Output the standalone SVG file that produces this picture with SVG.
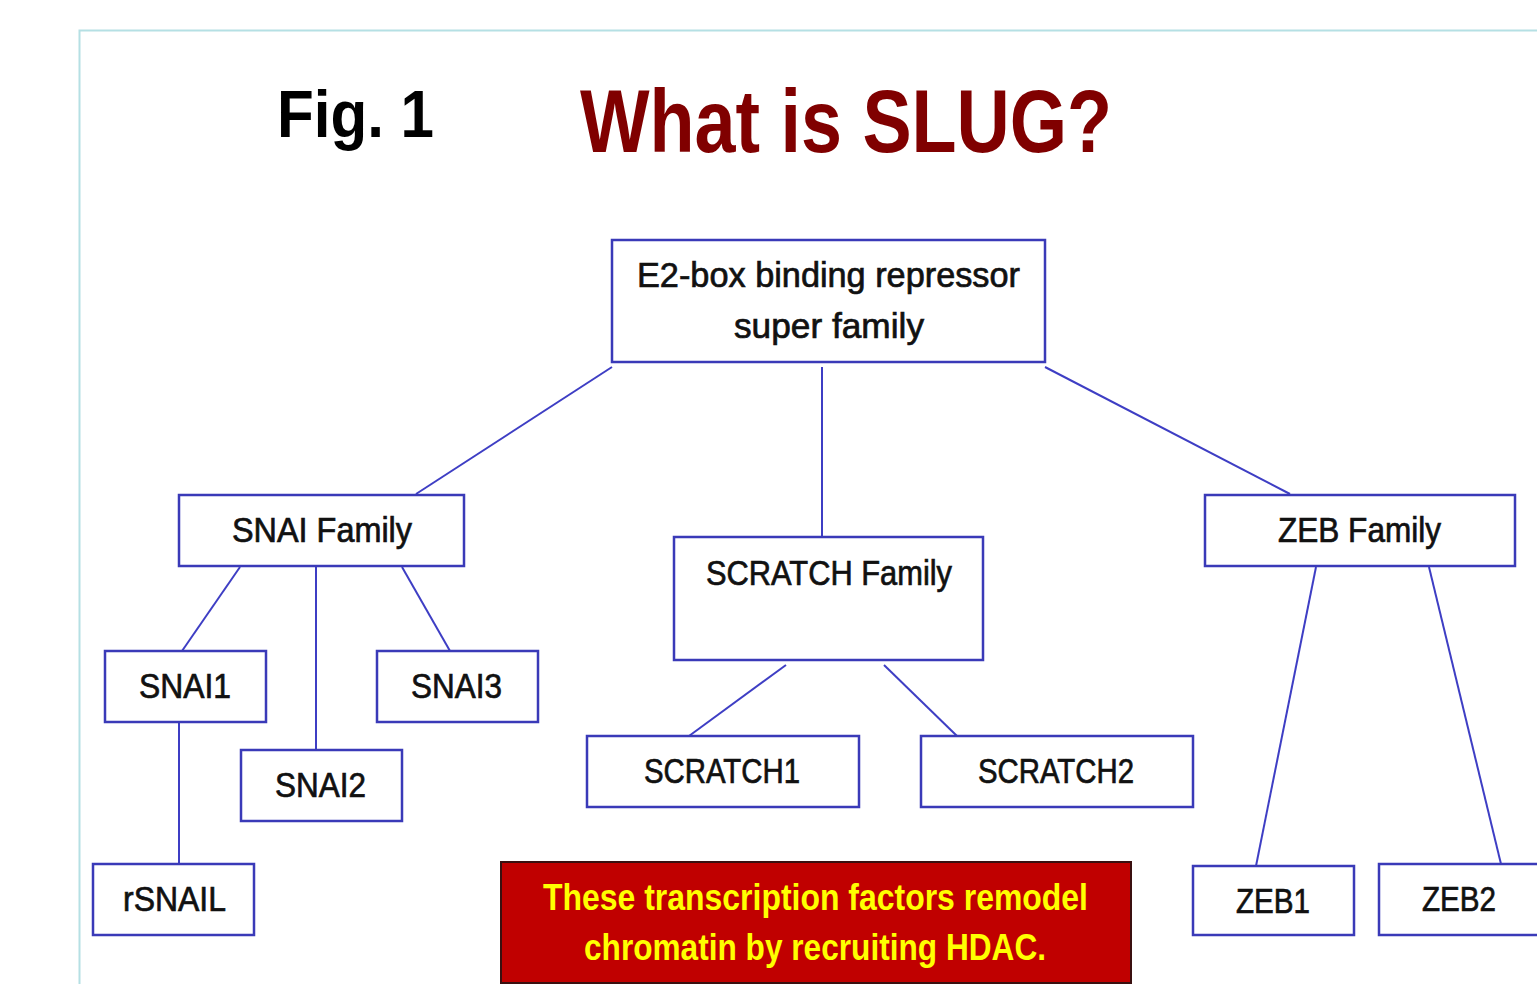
<svg xmlns="http://www.w3.org/2000/svg" width="1537" height="984" viewBox="0 0 1537 984">
<style>
.box{fill:#fff;stroke:#3a3ab8;stroke-width:2.5}
.lbl{font-family:"Liberation Sans",Arial,sans-serif;font-size:35px;fill:#111;stroke:#111;stroke-width:0.7;text-anchor:start}
.ln{stroke:#3e3ec4;stroke-width:2;fill:none}
.note{font-family:"Liberation Sans",Arial,sans-serif;font-weight:bold;font-size:36px;fill:#ffff00}
</style>
<rect width="1537" height="984" fill="#fff"/>
<path d="M79.5 984 V30.5 H1537" fill="none" stroke="#b5e0e4" stroke-width="2"/>
<text x="277" y="137" font-family="Liberation Sans,Arial,sans-serif" font-weight="bold" font-size="66" fill="#000" textLength="157" lengthAdjust="spacingAndGlyphs">Fig. 1</text>
<text x="580" y="152" font-family="Liberation Sans,Arial,sans-serif" font-weight="bold" font-size="89" fill="#800000" textLength="532" lengthAdjust="spacingAndGlyphs">What is SLUG?</text>
<g id="connectors">
<line class="ln" x1="612" y1="367" x2="416" y2="494"/>
<line class="ln" x1="822" y1="367" x2="822" y2="537"/>
<line class="ln" x1="1045" y1="367" x2="1290" y2="494"/>
<line class="ln" x1="240" y1="567" x2="182" y2="651"/>
<line class="ln" x1="316" y1="567" x2="316" y2="750"/>
<line class="ln" x1="402" y1="567" x2="450" y2="651"/>
<line class="ln" x1="179" y1="722" x2="179" y2="864"/>
<line class="ln" x1="786" y1="665" x2="689" y2="736"/>
<line class="ln" x1="884" y1="665" x2="957" y2="736"/>
<line class="ln" x1="1316" y1="567" x2="1256" y2="866"/>
<line class="ln" x1="1429" y1="567" x2="1501" y2="864"/>
</g>
<g id="root">
<rect class="box" x="612" y="240" width="433" height="122"/>
<text class="lbl" x="637" y="287" textLength="383" lengthAdjust="spacingAndGlyphs">E2-box binding repressor</text>
<text class="lbl" x="734" y="338" textLength="190" lengthAdjust="spacingAndGlyphs">super family</text>
</g>
<g id="snai-family">
<rect class="box" x="179" y="495" width="285" height="71"/>
<text class="lbl" x="232" y="542" textLength="180" lengthAdjust="spacingAndGlyphs">SNAI Family</text>
</g>
<g id="snai1">
<rect class="box" x="105" y="651" width="161" height="71"/>
<text class="lbl" x="139" y="698" textLength="92" lengthAdjust="spacingAndGlyphs">SNAI1</text>
</g>
<g id="snai3">
<rect class="box" x="377" y="651" width="161" height="71"/>
<text class="lbl" x="411" y="698" textLength="91" lengthAdjust="spacingAndGlyphs">SNAI3</text>
</g>
<g id="snai2">
<rect class="box" x="241" y="750" width="161" height="71"/>
<text class="lbl" x="275" y="797" textLength="91" lengthAdjust="spacingAndGlyphs">SNAI2</text>
</g>
<g id="rsnail">
<rect class="box" x="93" y="864" width="161" height="71"/>
<text class="lbl" x="123" y="911" textLength="103" lengthAdjust="spacingAndGlyphs">rSNAIL</text>
</g>
<g id="scratch-family">
<rect class="box" x="674" y="537" width="309" height="123"/>
<text class="lbl" x="706" y="585" textLength="246" lengthAdjust="spacingAndGlyphs">SCRATCH Family</text>
</g>
<g id="scratch1">
<rect class="box" x="587" y="736" width="272" height="71"/>
<text class="lbl" x="644" y="783" textLength="156" lengthAdjust="spacingAndGlyphs">SCRATCH1</text>
</g>
<g id="scratch2">
<rect class="box" x="921" y="736" width="272" height="71"/>
<text class="lbl" x="978" y="783" textLength="156" lengthAdjust="spacingAndGlyphs">SCRATCH2</text>
</g>
<g id="zeb-family">
<rect class="box" x="1205" y="495" width="310" height="71"/>
<text class="lbl" x="1278" y="542" textLength="163" lengthAdjust="spacingAndGlyphs">ZEB Family</text>
</g>
<g id="zeb1">
<rect class="box" x="1193" y="866" width="161" height="69"/>
<text class="lbl" x="1236" y="913" textLength="74" lengthAdjust="spacingAndGlyphs">ZEB1</text>
</g>
<g id="zeb2">
<rect class="box" x="1379" y="864" width="170" height="71"/>
<text class="lbl" x="1422" y="911" textLength="74" lengthAdjust="spacingAndGlyphs">ZEB2</text>
</g>
<g id="note">
<rect x="501" y="862" width="630" height="121" fill="#c00000" stroke="#3a1010" stroke-width="2"/>
<text class="note" x="543" y="910" textLength="545" lengthAdjust="spacingAndGlyphs">These transcription factors remodel</text>
<text class="note" x="584" y="960" textLength="462" lengthAdjust="spacingAndGlyphs">chromatin by recruiting HDAC.</text>
</g>
</svg>
